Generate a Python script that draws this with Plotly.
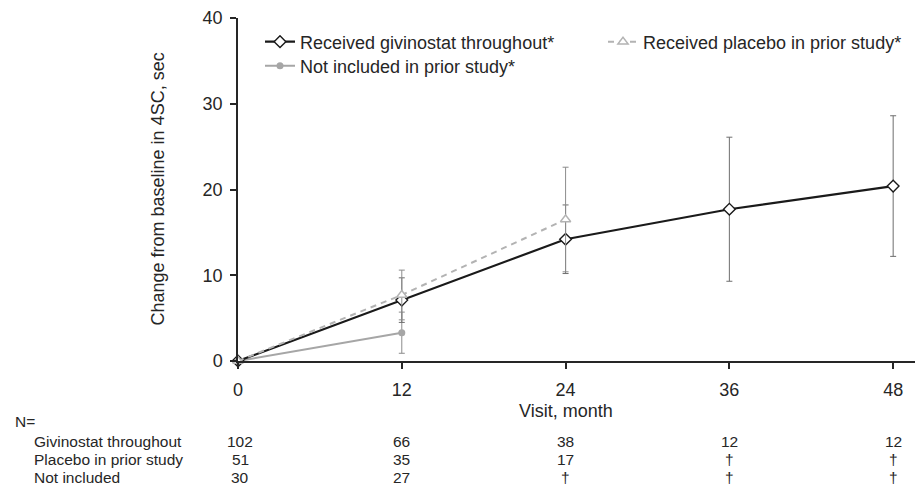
import plotly.graph_objects as go

# ---- data ----
months = [0, 12, 24, 36, 48]

giv_x = [0, 12, 24, 36, 48]
giv_y = [0, 7.1, 14.2, 17.7, 20.4]
giv_err = [0, 2.6, 4.0, 8.4, 8.2]

pla_x = [0, 12, 24]
pla_y = [0, 7.7, 16.5]
pla_err = [0, 2.9, 6.1]

not_x = [0, 12]
not_y = [0, 3.3]
not_err = [0, 2.4]

row_labels = ["Givinostat throughout", "Placebo in prior study", "Not included"]
n_giv = ["102", "66", "38", "12", "12"]
n_pla = ["51", "35", "17", "†", "†"]
n_not = ["30", "27", "†", "†", "†"]

FONT = "Liberation Sans, Arial, sans-serif"
TXT = "#262626"

fig = go.Figure()

fig.add_trace(go.Scatter(
    x=not_x, y=not_y, mode="lines+markers", name="Not included in prior study*",
    line=dict(color="#a6a6a6", width=2),
    marker=dict(symbol="circle", size=7, color="#a6a6a6"),
    error_y=dict(type="data", array=not_err, color="#8c8c8c", thickness=1, width=3),
    cliponaxis=False, legend="legend3"))

fig.add_trace(go.Scatter(
    x=giv_x, y=giv_y, mode="lines+markers", name="Received givinostat throughout*",
    line=dict(color="#1a1a1a", width=2.2),
    marker=dict(symbol="diamond", size=9, color="white", line=dict(color="#1a1a1a", width=1.4)),
    error_y=dict(type="data", array=giv_err, color="#6e6e6e", thickness=1, width=3),
    cliponaxis=False, legend="legend"))

fig.add_trace(go.Scatter(
    x=pla_x, y=pla_y, mode="lines+markers", name="Received placebo in prior study*",
    line=dict(color="#b3b3b3", width=2, dash="6px,5px"),
    marker=dict(symbol="triangle-up", size=9, color="white", line=dict(color="#b3b3b3", width=1.4)),
    error_y=dict(type="data", array=pla_err, color="#8c8c8c", thickness=1, width=3),
    cliponaxis=False, legend="legend2"))

PLOT_L, PLOT_T, PLOT_B = 238, 18, 361
H = PLOT_B - PLOT_T

def py(p):
    return (PLOT_B - p) / H

leg_common = dict(bgcolor="rgba(0,0,0,0)", font=dict(family=FONT, size=18, color=TXT),
                  xanchor="left", yanchor="middle", itemwidth=30)

fig.update_layout(
    width=915, height=491,
    margin=dict(l=PLOT_L, r=0, t=PLOT_T, b=491 - PLOT_B),
    paper_bgcolor="white", plot_bgcolor="white",
    font=dict(family=FONT, size=18, color=TXT),
    showlegend=True,
    legend=dict(x=(260 - PLOT_L) / 677, y=py(42), **leg_common),
    legend2=dict(x=(603 - PLOT_L) / 677, y=py(42), **leg_common),
    legend3=dict(x=(260 - PLOT_L) / 677, y=py(66), **leg_common),
    xaxis=dict(range=[0, 49.6], tickvals=months, ticktext=[str(m) for m in months],
               showgrid=False, zeroline=False, showline=True, linecolor="#262626", linewidth=1.5,
               ticks="outside", ticklen=6, tickcolor="#262626", tickwidth=1.5,
               tickfont=dict(family=FONT, size=18, color=TXT), ticklabelstandoff=6),
    yaxis=dict(range=[0, 40], tickvals=[0, 10, 20, 30, 40],
               showgrid=False, zeroline=False, showline=True, linecolor="#262626", linewidth=1.5,
               ticks="outside", ticklen=6, tickcolor="#262626", tickwidth=1.5,
               tickfont=dict(family=FONT, size=18, color=TXT), ticklabelstandoff=4),
)

ann = []
# axis titles
ann.append(dict(text="Change from baseline in 4SC, sec", xref="paper", yref="paper",
                x=0, y=0.5, xshift=157 - PLOT_L, textangle=-90, showarrow=False,
                font=dict(family=FONT, size=18, color=TXT), xanchor="center", yanchor="middle"))
ann.append(dict(text="Visit, month", xref="x", yref="paper", x=24, y=0,
                yshift=-(411 - PLOT_B), showarrow=False,
                font=dict(family=FONT, size=18, color=TXT), xanchor="center", yanchor="middle"))
# N table
ann.append(dict(text="N=", xref="paper", yref="paper", x=0, y=0, xshift=13 - PLOT_L,
                yshift=-(421 - PLOT_B), showarrow=False, xanchor="left", yanchor="middle",
                font=dict(family=FONT, size=15.5, color=TXT)))
row_y = [441, 459, 477]
for lbl, vals, ry in zip(row_labels, [n_giv, n_pla, n_not], row_y):
    ann.append(dict(text=lbl, xref="paper", yref="paper", x=0, y=0, xshift=32 - PLOT_L,
                    yshift=-(ry - PLOT_B), showarrow=False, xanchor="left", yanchor="middle",
                    font=dict(family=FONT, size=15.5, color=TXT)))
    for m, v in zip(months, vals):
        ann.append(dict(text=v, xref="x", yref="paper", x=m, y=0, xshift=2 if m == 0 else 0,
                        yshift=-(ry - PLOT_B), showarrow=False, xanchor="center", yanchor="middle",
                        font=dict(family=FONT, size=15.5, color=TXT)))
fig.update_layout(annotations=ann)

fig.write_html("out.html")
